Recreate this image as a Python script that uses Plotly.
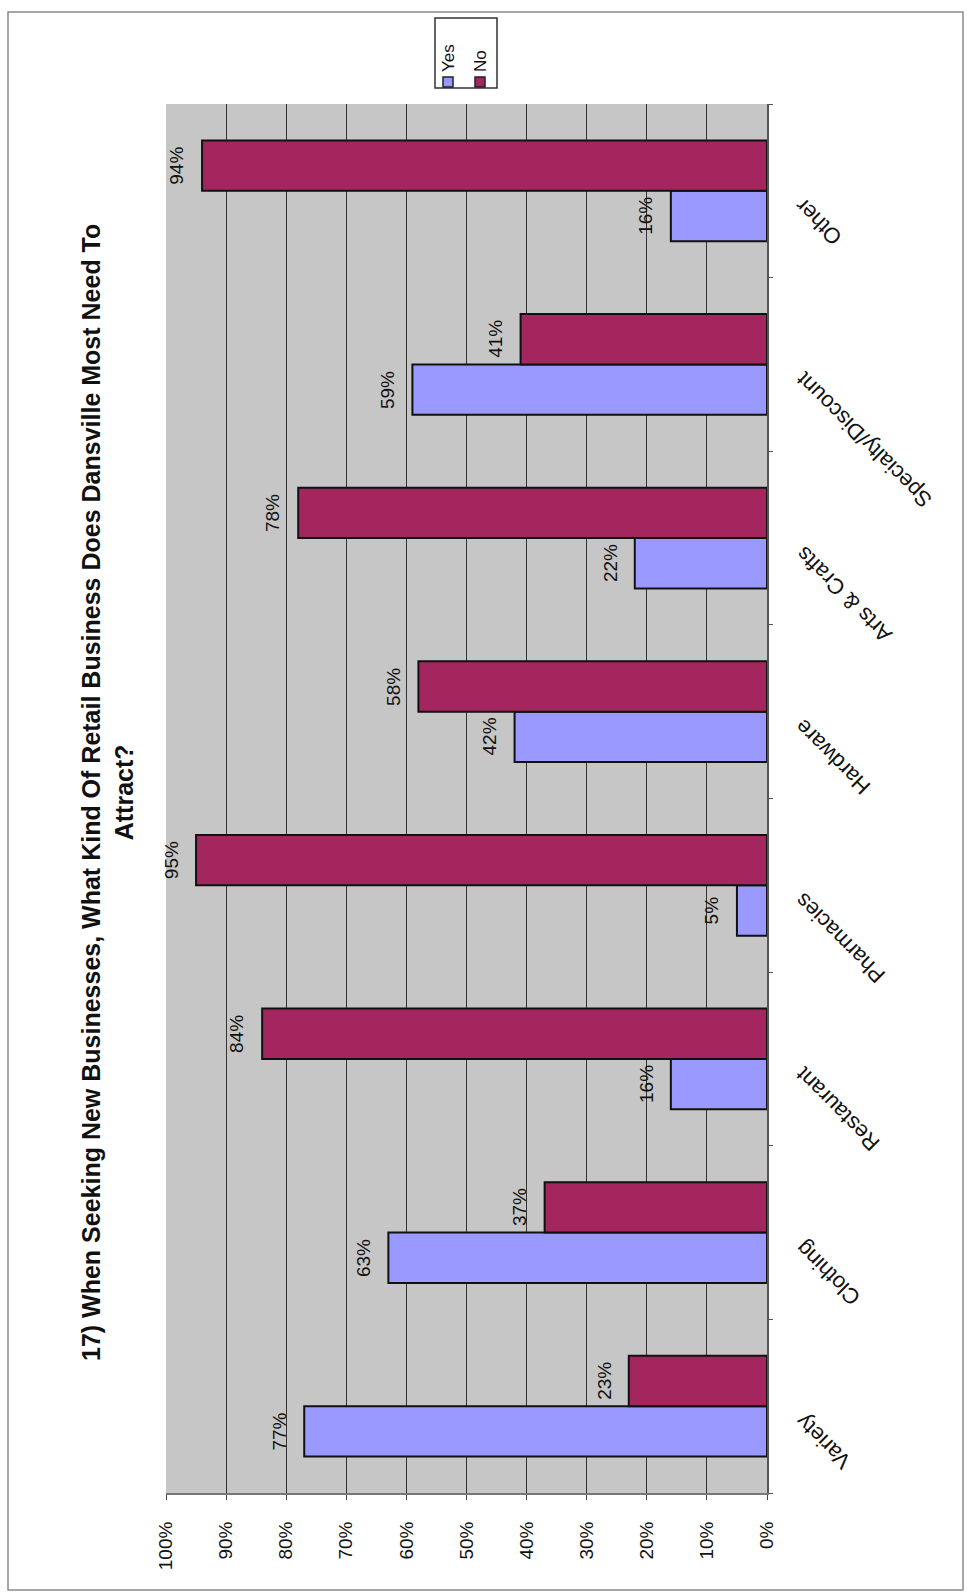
import plotly.graph_objects as go

categories = ["Variety", "Clothing", "Restaurant", "Pharmacies", "Hardware",
              "Arts & Crafts", "Specialty/Discount", "Other"]
yes_vals = [77, 63, 16, 5, 42, 22, 59, 16]
no_vals = [23, 37, 84, 95, 58, 78, 41, 94]
x_ticks = [0, 10, 20, 30, 40, 50, 60, 70, 80, 90, 100]
x_tick_labels = [f"{v}%" for v in x_ticks]
title_line1 = "17) When Seeking New Businesses, What Kind Of Retail Business Does Dansville Most Need To"
title_line2 = "Attract?"

W, H = 967, 1593
L, R, T, B = 166, 200, 104, 100
PW, PH = W - L - R, H - T - B

def px2x(px):
    return (px - L) / PW

def py2y(py):
    return (H - B - py) / PH

FONT = "Arial, Liberation Sans, sans-serif"
YES_C = "#9999FF"
NO_C = "#A3265E"
BARGAP = 0.42
# pixel offset of each bar centre from its category centre
slot_px = PH / len(categories)
bar_off = (1 - BARGAP) / 4 * slot_px

fig = go.Figure()
for name, vals, col in [("Yes", yes_vals, YES_C), ("No", no_vals, NO_C)]:
    fig.add_trace(go.Bar(
        y=categories, x=vals, orientation="h", name=name,
        marker=dict(color=col, line=dict(color="#111111", width=2)),
    ))

fig.update_layout(
    width=W, height=H,
    margin=dict(l=L, r=R, t=T, b=B),
    paper_bgcolor="white",
    plot_bgcolor="#C6C6C6",
    barmode="group", bargap=BARGAP, bargroupgap=0,
    showlegend=False,
    font=dict(family=FONT, color="#111111"),
)
fig.update_xaxes(
    range=[100, 0], tickvals=x_ticks, ticktext=x_tick_labels, tickangle=-90,
    tickfont=dict(family=FONT, size=19, color="#111111"),
    showgrid=True, gridcolor="#333333", gridwidth=1,
    showline=True, linecolor="#777777", linewidth=2,
    ticks="outside", ticklen=5, tickcolor="#444444",
    ticklabelstandoff=14, zeroline=False,
)
fig.update_yaxes(
    side="right", range=[-0.5, 7.5], showticklabels=False,
    showgrid=False, showline=True, linecolor="#555555", linewidth=2,
    ticks="outside", ticklen=4, tickcolor="#555555", tickson="boundaries",
)

# value labels (rotated), placed just beyond each bar end
for vals, sgn in [(yes_vals, -1), (no_vals, 1)]:
    for c, v in zip(categories, vals):
        fig.add_annotation(
            x=v, y=c, xref="x", yref="y", text=f"{v}%", textangle=-90,
            xanchor="center", yanchor="middle", xshift=-25, yshift=sgn * bar_off,
            showarrow=False, font=dict(family=FONT, size=19, color="#111111"),
        )

# category labels (rotated)
for c in categories:
    fig.add_annotation(
        x=1, xref="paper", y=c, yref="y", text=c, textangle=-135,
        xanchor="left", yanchor="top", xshift=21, yshift=0, showarrow=False,
        font=dict(family=FONT, size=22, color="#111111"),
    )

# title (rotated)
fig.add_annotation(
    x=px2x(108), y=py2y(793), xref="paper", yref="paper",
    text=f"<b>{title_line1}</b><br><b>{title_line2}</b>",
    textangle=-90, xanchor="center", yanchor="middle", showarrow=False,
    align="center", font=dict(family=FONT, size=25, color="#111111"),
)

# legend (rotated)
fig.add_shape(type="rect", xref="paper", yref="paper",
              x0=px2x(435), x1=px2x(497), y0=py2y(88), y1=py2y(18),
              line=dict(color="#333333", width=1.5), fillcolor="white")
for name, col, cx in [("Yes", YES_C, 448), ("No", NO_C, 480)]:
    fig.add_shape(type="rect", xref="paper", yref="paper",
                  x0=px2x(cx - 5), x1=px2x(cx + 5), y0=py2y(87), y1=py2y(77),
                  line=dict(color="#222222", width=1.5), fillcolor=col)
    fig.add_annotation(x=px2x(cx), y=py2y(74), xref="paper", yref="paper",
                       text=name, textangle=-90, xanchor="center", yanchor="bottom",
                       showarrow=False, font=dict(family=FONT, size=17, color="#111111"))

# outer border
fig.add_shape(type="rect", xref="paper", yref="paper",
              x0=px2x(8), x1=px2x(963), y0=py2y(1590), y1=py2y(12),
              line=dict(color="#8A8A8A", width=1.5), layer="below")

fig.write_html("out.html")
